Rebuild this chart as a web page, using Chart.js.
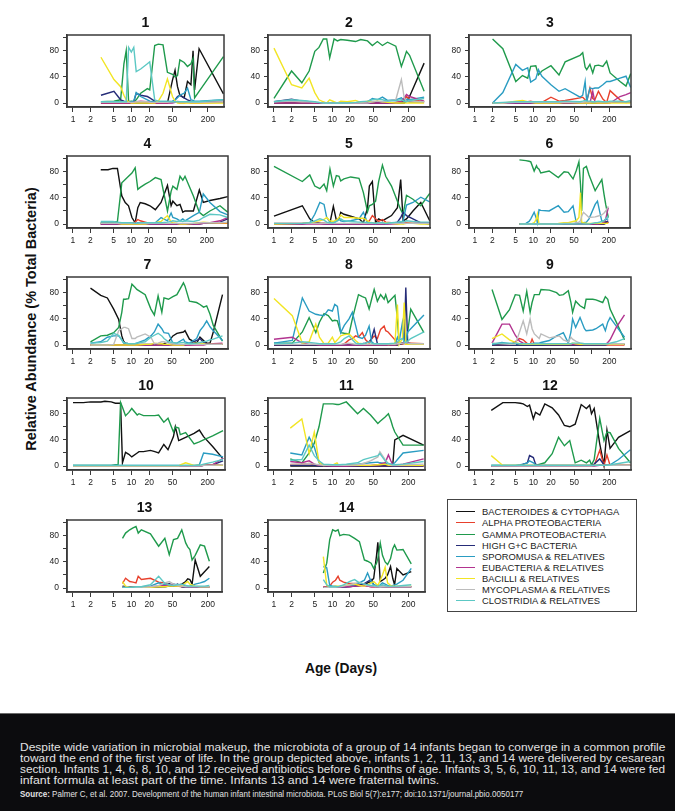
<!DOCTYPE html>
<html>
<head>
<meta charset="utf-8">
<script src="https://cdn.jsdelivr.net/npm/chart.js@4.4.1/dist/chart.umd.min.js"></script>
<style>
html, body { margin: 0; padding: 0; background: #fff; }
body { width: 675px; height: 811px; position: relative; overflow: hidden; font-family: "Liberation Sans", Arial, sans-serif; }
canvas.panel { position: absolute; display: block; }
#ytitle { position: absolute; left: 31px; top: 319px; transform: translate(-50%, -50%) rotate(-90deg); font-weight: bold; font-size: 14.5px; white-space: nowrap; color: #111; }
#xtitle { position: absolute; left: 341px; top: 668px; transform: translate(-50%, -50%); font-weight: bold; font-size: 13.8px; color: #111; white-space: nowrap; }
#legend { position: absolute; left: 447px; top: 499px; width: 190px; height: 113px; border: 1px solid #444; box-sizing: border-box; }
.li { position: absolute; left: 8px; height: 11px; font-size: 9.4px; line-height: 11px; color: #222; white-space: nowrap; }
.li i { display: inline-block; width: 19px; border-top: 1.6px solid; vertical-align: middle; margin-right: 7px; position: relative; top: -1px; }
#caption { position: absolute; left: 0; top: 713px; width: 675px; height: 98px; background: #0c0c0e; border-top: 1px solid #6a6a6a; box-sizing: border-box; }
.cl { position: absolute; left: 20px; height: 12px; line-height: 12px; white-space: nowrap; color: #e2e2e2; font-size: 11.5px; transform-origin: 0 50%; font-family: "Liberation Sans Narrow", "Liberation Sans", Arial, sans-serif; }
.cl.src { font-size: 9px; }
</style>
</head>
<body>
<div id="ytitle">Relative Abundance (% Total Bacteria)</div>
<div id="xtitle">Age (Days)</div>
<div id="legend"></div>
<div id="caption">
  <div class="cl" data-w="645" style="top:27px">Despite wide variation in microbial makeup, the microbiota of a group of 14 infants began to converge in a common profile</div>
  <div class="cl" data-w="645" style="top:38px">toward the end of the first year of life. In the group depicted above, infants 1, 2, 11, 13, and 14 were delivered by cesarean</div>
  <div class="cl" data-w="645" style="top:49px">section. Infants 1, 4, 6, 8, 10, and 12 received antibiotics before 6 months of age. Infants 3, 5, 6, 10, 11, 13, and 14 were fed</div>
  <div class="cl" data-w="419" style="top:60px">infant formula at least part of the time. Infants 13 and 14 were fraternal twins.</div>
  <div class="cl src" data-w="503" style="top:74px"><b>Source:</b> Palmer C, et al. 2007. Development of the human infant intestinal microbiota. PLoS Biol 5(7):e177; doi:10.1371/journal.pbio.0050177</div>
</div>
<script>
const SERIES = ['BACTEROIDES & CYTOPHAGA', 'ALPHA PROTEOBACTERIA', 'GAMMA PROTEOBACTERIA', 'HIGH G+C BACTERIA',
    'SPOROMUSA & RELATIVES', 'EUBACTERIA & RELATIVES', 'BACILLI & RELATIVES', 'MYCOPLASMA & RELATIVES', 'CLOSTRIDIA & RELATIVES'];
const COLORS = ['#111111', '#e8402c', '#1f9a4c', '#262c78', '#2a9cc2', '#b2338f', '#f2e524', '#bcbcbc', '#5cc8c4'];

const X_TICKS = [1, 2, 5, 10, 20, 50, 100, 200];
const X_TICK_LABELS = ['1', '2', '5', '10', '20', '50', '', '200'];
const Y_TICKS = [0, 20, 40, 60, 80, 100];
const Y_TICK_LABELS = ['0', '', '40', '', '80', ''];

// infant 1
const days1  = [3, 5, 6.5, 7.4, 8.1, 8.9, 9.9, 10.9, 12, 14.3, 18.6, 20.4, 24.8, 28.6, 34.4, 40.9, 49.9, 55.2, 60.8, 66.7, 79, 90, 103, 112, 119, 142, 370];
const bact1  = [0, 0, 0, 0, 0, 0, 0, 0, 0, 0, 0, 0, 0, 0, 0, 0, 35, 50, 25, 12, 8, 33, 28, 80, 20, 83, 14];
const alpha1 = [0, 0, 0, 0, 0, 0, 0, 0, 1, 2, 1, 0, 0, 0, 0, 0, 1, 2, 1, 0, 0, 1, 0, 0, 0, 0, 1];
const gamma1 = [2, 3, 5, 60, 80, 2, 3, 2, 5, 15, 22, 20, 88, 90, 89, 47, 44, 40, 42, 66, 62, 56, 60, 68, 8, 18, 71];
const hgc1   = [12, 18, 5, 3, 2, 2, 2, 2, 15, 12, 10, 8, 3, 2, 2, 2, 2, 5, 10, 12, 8, 5, 3, 2, 2, 2, 2];
const sporo1 = [2, 2, 2, 2, 2, 2, 2, 3, 16, 10, 5, 3, 2, 2, 2, 2, 3, 5, 8, 12, 15, 23, 5, 4, 3, 3, 5];
const eubac1 = [0, 0, 0, 0, 0, 0, 0, 1, 2, 3, 2, 1, 0, 0, 0, 0, 0, 1, 1, 1, 1, 1, 1, 1, 1, 1, 3];
const bacil1 = [70, 36, 25, 12, 5, 2, 0, 0, 0, 0, 0, 0, 0, 3, 15, 37, 10, 3, 0, 0, 0, 0, 0, 0, 0, 0, 0];
const myco1  = [1, 1, 1, 1, 1, 1, 1, 1, 2, 2, 2, 1, 1, 1, 1, 1, 2, 2, 3, 2, 2, 2, 1, 1, 1, 1, 2];
const clost1 = [2, 2, 2, 2, 2, 85, 78, 85, 48, 52, 60, 63, 5, 3, 3, 3, 2, 2, 2, 2, 2, 2, 2, 2, 2, 2, 5];

// infant 2
const days2  = [1, 2, 3, 4, 5, 5.9, 7, 8, 9, 10.7, 12.2, 13.9, 18, 25, 30.6, 40, 48.4, 59, 72, 88, 122, 152, 170, 186, 210, 373];
const bact2  = [0, 0, 0, 0, 0, 0, 0, 0, 0, 0, 0, 0, 0, 0, 0, 0, 0, 0, 0, 0, 0, 0, 0, 3, 10, 61];
const alpha2 = [1, 3, 2, 1, 0, 0, 0, 0, 0, 0, 0, 0, 0, 0, 0, 0, 0, 0, 0, 0, 1, 2, 5, 10, 6, 2];
const gamma2 = [7, 49, 31, 49, 79, 85, 98, 98, 69, 98, 95, 97, 96, 94, 97, 95, 88, 94, 88, 93, 87, 56, 68, 79, 73, 18];
const hgc2   = [2, 6, 3, 2, 1, 0, 0, 0, 0, 0, 0, 0, 0, 0, 0, 0, 0, 0, 0, 0, 1, 1, 2, 3, 2, 2];
const sporo2 = [2, 4, 3, 2, 1, 0, 0, 0, 0, 0, 0, 0, 0, 0, 1, 2, 7, 5, 9, 4, 5, 8, 4, 6, 5, 9];
const eubac2 = [0, 0, 0, 0, 0, 0, 0, 0, 0, 0, 0, 0, 0, 0, 0, 0, 0, 0, 0, 0, 0, 3, 8, 13, 10, 3];
const bacil2 = [84, 28, 23, 38, 16, 5, 2, 0, 5, 2, 0, 3, 2, 4, 1, 3, 2, 3, 2, 1, 0, 0, 0, 0, 0, 0];
const myco2  = [2, 3, 2, 2, 1, 1, 0, 0, 0, 0, 0, 0, 0, 0, 0, 0, 2, 3, 2, 3, 5, 36, 8, 3, 3, 2];
const clost2 = [2, 5, 4, 3, 2, 1, 0, 0, 0, 0, 0, 0, 0, 1, 2, 3, 5, 6, 5, 3, 4, 5, 3, 2, 4, 7];

// infant 3
const days3  = [2, 3, 5, 6.5, 8, 9, 11, 12.2, 14, 20, 27.5, 35, 63, 70, 77, 82, 93, 104, 113, 130, 155, 180, 206, 305, 386, 465];
const bact3  = [0, 0, 0, 0, 0, 0, 0, 0, 0, 0, 0, 0, 0, 0, 0, 0, 0, 0, 0, 0, 0, 0, 1, 2, 2, 2];
const alpha3 = [0, 0, 1, 1, 2, 3, 1, 2, 1, 9, 3, 4, 8, 9, 5, 3, 23, 7, 5, 18, 6, 1, 19, 5, 1, 2];
const gamma3 = [98, 83, 33, 42, 38, 56, 57, 43, 49, 57, 43, 63, 73, 77, 55, 51, 59, 46, 57, 58, 56, 64, 46, 33, 26, 45];
const hgc3   = [0, 0, 0, 0, 0, 0, 0, 0, 0, 0, 0, 0, 0, 0, 1, 1, 1, 1, 1, 1, 1, 1, 1, 1, 1, 1];
const sporo3 = [0, 16, 59, 50, 54, 32, 37, 51, 41, 28, 18, 22, 9, 12, 33, 2, 23, 22, 23, 23, 28, 33, 33, 38, 41, 24];
const eubac3 = [0, 0, 0, 0, 0, 0, 0, 0, 0, 0, 0, 0, 0, 0, 0, 0, 0, 18, 2, 0, 0, 0, 0, 10, 13, 16];
const bacil3 = [0, 0, 3, 4, 2, 1, 0, 0, 0, 0, 0, 1, 0, 0, 0, 0, 0, 0, 0, 0, 0, 0, 0, 0, 0, 0];
const myco3  = [0, 0, 1, 1, 1, 1, 1, 1, 1, 1, 1, 1, 1, 1, 2, 2, 2, 2, 2, 2, 2, 2, 2, 2, 2, 2];
const clost3 = [0, 1, 2, 2, 2, 2, 2, 2, 2, 2, 2, 3, 2, 3, 4, 3, 3, 2, 2, 3, 2, 2, 3, 3, 2, 4];

// infant 4
const days4  = [3, 4, 4.85, 5.8, 6.9, 7.9, 9, 10.3, 11.7, 13, 14.3, 17.4, 21, 26, 32.6, 42, 48.5, 52, 61, 69, 77, 84, 117, 148, 173, 225, 335, 455];
const bact4  = [83, 83, 85, 85, 43, 33, 28, 10, 2, 25, 33, 31, 28, 22, 33, 59, 28, 35, 28, 30, 18, 20, 20, 52, 33, 36, 39, 42];
const alpha4 = [0, 0, 0, 0, 0, 0, 0, 1, 3, 7, 5, 3, 1, 0, 0, 0, 0, 0, 0, 0, 0, 0, 0, 1, 1, 1, 1, 1];
const gamma4 = [2, 2, 3, 4, 63, 68, 73, 78, 86, 53, 56, 61, 65, 71, 68, 20, 50, 58, 53, 73, 67, 73, 43, 18, 13, 20, 28, 18];
const hgc4   = [0, 0, 0, 0, 0, 0, 0, 0, 0, 0, 0, 0, 0, 0, 0, 0, 0, 0, 0, 0, 0, 0, 0, 0, 1, 1, 3, 8];
const sporo4 = [2, 2, 2, 2, 2, 1, 1, 1, 1, 2, 2, 2, 2, 2, 10, 5, 17, 10, 8, 5, 8, 5, 13, 18, 46, 33, 19, 14];
const eubac4 = [0, 0, 0, 0, 0, 0, 0, 0, 0, 0, 0, 0, 0, 0, 0, 0, 0, 0, 0, 0, 0, 0, 0, 0, 1, 2, 5, 10];
const bacil4 = [1, 1, 1, 1, 0, 0, 0, 0, 0, 0, 0, 0, 1, 2, 4, 13, 3, 2, 1, 0, 0, 0, 1, 2, 3, 2, 2, 2];
const myco4  = [1, 1, 1, 1, 1, 1, 1, 1, 1, 1, 1, 1, 1, 1, 1, 1, 1, 1, 1, 1, 1, 1, 1, 2, 2, 2, 2, 3];
const clost4 = [4, 4, 4, 3, 2, 2, 2, 2, 1, 1, 2, 2, 2, 2, 2, 3, 4, 5, 4, 5, 4, 5, 4, 6, 10, 15, 14, 10];

// infant 5
const days5  = [1, 3.06, 4.1, 5, 6.1, 7.2, 8, 9.1, 10.4, 11.7, 13, 13.9, 15.8, 20.6, 28.6, 34, 40, 43, 48.4, 55, 62, 72, 82, 103, 130, 148, 163, 186, 240, 327, 465];
const bact5  = [12, 28, 8, 2, 1, 1, 1, 2, 27, 6, 8, 18, 15, 12, 8, 2, 25, 58, 65, 2, 8, 5, 8, 13, 25, 68, 5, 8, 20, 33, 5];
const alpha5 = [1, 1, 2, 2, 1, 1, 0, 0, 0, 0, 0, 0, 0, 0, 0, 1, 3, 5, 13, 8, 4, 7, 3, 2, 1, 2, 1, 2, 1, 1, 1];
const gamma5 = [88, 65, 75, 58, 54, 61, 51, 84, 58, 74, 73, 66, 69, 72, 70, 48, 19, 28, 30, 35, 65, 90, 73, 58, 35, 22, 15, 44, 38, 28, 47];
const hgc5   = [0, 0, 2, 2, 1, 0, 0, 0, 0, 0, 0, 0, 0, 0, 0, 0, 0, 0, 0, 0, 0, 0, 0, 1, 3, 10, 18, 13, 8, 2, 0];
const sporo5 = [0, 1, 2, 15, 33, 30, 10, 3, 2, 4, 8, 5, 4, 5, 8, 18, 2, 2, 2, 1, 2, 1, 1, 2, 2, 3, 5, 29, 33, 41, 34];
const eubac5 = [0, 0, 0, 0, 0, 0, 0, 0, 0, 0, 0, 0, 0, 0, 0, 0, 0, 0, 0, 0, 0, 0, 0, 0, 0, 1, 1, 1, 1, 2, 2];
const bacil5 = [0, 1, 2, 3, 5, 7, 10, 5, 4, 6, 10, 14, 10, 10, 9, 9, 5, 3, 2, 1, 1, 1, 2, 1, 0, 0, 0, 1, 1, 0, 0];
const myco5  = [1, 1, 1, 1, 1, 1, 1, 1, 1, 1, 1, 1, 1, 1, 1, 1, 1, 1, 1, 1, 1, 1, 1, 1, 1, 1, 1, 1, 1, 1, 1];
const clost5 = [1, 1, 2, 5, 8, 6, 3, 2, 2, 4, 6, 8, 5, 4, 3, 3, 2, 2, 2, 1, 2, 2, 1, 2, 3, 4, 3, 5, 4, 3, 3];

// infant 6
const days6  = [5.8, 7.5, 8.5, 9.1, 10.4, 11.4, 11.8, 12.6, 13.5, 18.8, 27, 34, 40, 48.4, 55, 61, 65, 68, 73, 82, 91, 116, 127, 151, 165, 176, 195];
const bact6  = [0, 0, 0, 0, 0, 0, 0, 0, 0, 0, 0, 0, 0, 0, 0, 0, 0, 0, 0, 0, 0, 0, 0, 0, 0, 1, 3];
const alpha6 = [0, 0, 0, 0, 0, 0, 0, 0, 0, 0, 0, 0, 0, 0, 0, 0, 0, 0, 0, 0, 0, 0, 0, 0, 2, 4, 2];
const gamma6 = [98, 97, 96, 95, 81, 89, 86, 84, 78, 81, 71, 80, 79, 69, 82, 95, 60, 20, 85, 88, 75, 51, 57, 68, 45, 30, 10];
const hgc6   = [0, 0, 0, 0, 0, 0, 0, 0, 0, 0, 0, 0, 0, 0, 0, 0, 0, 0, 0, 0, 0, 0, 0, 0, 1, 3, 5];
const sporo6 = [0, 1, 4, 8, 18, 8, 2, 22, 21, 20, 28, 18, 19, 28, 2, 1, 1, 2, 2, 3, 8, 30, 35, 4, 5, 7, 8];
const eubac6 = [0, 0, 0, 0, 0, 0, 0, 0, 0, 0, 0, 0, 0, 0, 0, 0, 0, 0, 0, 0, 0, 0, 0, 1, 3, 8, 25];
const bacil6 = [0, 0, 0, 0, 2, 8, 15, 0, 0, 0, 1, 2, 2, 4, 5, 10, 48, 3, 2, 1, 1, 1, 1, 1, 1, 1, 1];
const myco6  = [0, 0, 0, 0, 0, 0, 0, 0, 0, 0, 0, 1, 1, 1, 2, 3, 5, 12, 18, 14, 10, 11, 12, 14, 17, 20, 27];
const clost6 = [0, 0, 0, 0, 0, 0, 0, 0, 0, 0, 0, 0, 0, 0, 0, 0, 0, 0, 0, 0, 0, 2, 2, 4, 5, 8, 12];

// infant 7
const days7  = [2, 3, 3.9, 5, 6.1, 6.9, 7.4, 7.9, 9, 10.3, 11.7, 12.5, 17.4, 21.8, 25, 29, 33.6, 36.6, 43.7, 52, 61, 79, 84, 100, 133, 152, 175, 198, 226, 257, 370];
const bact7  = [87, 76, 72, 55, 39, 14, 6, 3, 2, 2, 1, 1, 1, 1, 1, 1, 1, 2, 5, 14, 18, 20, 22, 9, 3, 12, 7, 3, 3, 20, 77];
const alpha7 = [0, 0, 0, 0, 0, 0, 0, 0, 0, 0, 0, 0, 0, 0, 0, 0, 0, 0, 0, 0, 0, 0, 0, 0, 1, 1, 1, 1, 1, 1, 1];
const gamma7 = [5, 14, 15, 19, 27, 50, 70, 70, 71, 93, 88, 85, 77, 55, 46, 75, 50, 72, 70, 74, 77, 95, 90, 67, 65, 62, 58, 60, 47, 30, 6];
const hgc7   = [0, 0, 0, 0, 0, 0, 0, 0, 0, 0, 0, 0, 0, 0, 0, 0, 0, 0, 0, 0, 0, 0, 0, 2, 7, 10, 4, 2, 1, 1, 1];
const sporo7 = [3, 5, 12, 14, 14, 8, 3, 3, 2, 2, 2, 3, 8, 14, 20, 32, 25, 19, 18, 3, 3, 9, 5, 3, 10, 22, 29, 37, 28, 22, 7];
const eubac7 = [0, 0, 0, 0, 0, 0, 0, 0, 0, 0, 0, 0, 0, 0, 0, 0, 0, 0, 0, 0, 0, 0, 0, 0, 0, 0, 0, 1, 1, 2, 3];
const bacil7 = [0, 0, 0, 0, 0, 0, 0, 0, 0, 0, 0, 0, 1, 1, 3, 2, 2, 1, 1, 0, 0, 0, 1, 2, 3, 3, 2, 1, 1, 1, 1];
const myco7  = [0, 0, 0, 1, 22, 25, 27, 27, 25, 10, 10, 12, 17, 12, 2, 3, 5, 5, 3, 2, 1, 1, 1, 1, 1, 1, 1, 1, 1, 1, 1];
const clost7 = [3, 4, 6, 18, 15, 8, 4, 3, 2, 2, 2, 3, 5, 12, 15, 18, 14, 10, 5, 4, 3, 4, 3, 2, 3, 4, 5, 6, 8, 9, 14];

// infant 8
const days8  = [1, 2.06, 3.06, 4, 5.2, 6, 7.2, 8.5, 10, 11, 12.2, 13.9, 16, 19.3, 22, 25, 28, 32.6, 37, 42.6, 47, 52, 59, 67, 77, 82, 90, 118, 130, 139, 158, 170, 181, 195, 220, 370];
const bact8  = [0, 0, 0, 0, 0, 0, 0, 0, 0, 0, 0, 0, 0, 0, 0, 0, 0, 0, 0, 0, 0, 0, 0, 0, 0, 0, 0, 0, 0, 1, 2, 3, 5, 3, 2, 1];
const alpha8 = [0, 0, 0, 0, 0, 0, 0, 0, 0, 0, 0, 0, 2, 8, 10, 14, 12, 19, 8, 3, 9, 14, 10, 24, 29, 22, 20, 8, 3, 3, 2, 2, 3, 2, 3, 2];
const gamma8 = [3, 3, 20, 42, 19, 35, 48, 45, 37, 38, 37, 19, 18, 17, 40, 60, 77, 74, 72, 55, 70, 85, 67, 77, 70, 77, 65, 76, 40, 3, 3, 3, 3, 20, 55, 19];
const hgc8   = [0, 0, 0, 0, 0, 0, 0, 0, 0, 0, 0, 0, 0, 0, 0, 0, 0, 2, 3, 5, 10, 24, 2, 1, 1, 1, 1, 1, 2, 2, 3, 5, 88, 3, 2, 1];
const sporo8 = [3, 7, 72, 52, 47, 46, 45, 54, 52, 62, 59, 19, 30, 40, 50, 30, 12, 10, 15, 29, 5, 2, 2, 1, 1, 1, 2, 2, 12, 5, 34, 3, 2, 20, 25, 46];
const eubac8 = [9, 12, 3, 1, 1, 0, 0, 0, 0, 0, 0, 0, 0, 0, 0, 0, 0, 0, 0, 0, 0, 0, 0, 0, 0, 0, 0, 0, 1, 2, 3, 4, 5, 3, 2, 2];
const bacil8 = [71, 45, 3, 5, 32, 12, 2, 3, 12, 4, 8, 14, 16, 17, 12, 7, 3, 2, 1, 1, 1, 1, 1, 1, 2, 2, 1, 2, 62, 1, 10, 65, 1, 1, 1, 1];
const myco8  = [1, 1, 1, 1, 1, 1, 1, 1, 1, 1, 1, 1, 2, 3, 2, 1, 1, 1, 1, 1, 1, 1, 1, 1, 1, 1, 1, 1, 2, 2, 3, 3, 4, 3, 2, 2];
const clost8 = [2, 3, 5, 4, 3, 2, 2, 2, 2, 2, 3, 5, 10, 14, 8, 3, 2, 2, 3, 5, 3, 2, 2, 2, 2, 2, 2, 3, 5, 8, 10, 5, 4, 6, 10, 20];

// infant 9
const days9  = [1.96, 2.9, 3.9, 4.9, 5.8, 6.7, 7.7, 8.8, 9.5, 10.4, 12.6, 13.5, 18.8, 25, 27.9, 32.6, 39.7, 44, 47, 53, 63, 75, 80, 104, 118, 154, 171, 188, 206, 263, 364];
const bact9  = [0, 0, 0, 0, 0, 0, 0, 0, 0, 0, 0, 0, 0, 0, 0, 0, 0, 0, 0, 0, 0, 1, 1, 1, 1, 1, 1, 1, 1, 1, 1];
const alpha9 = [0, 0, 0, 5, 10, 8, 3, 1, 9, 1, 1, 1, 0, 0, 0, 0, 0, 0, 0, 0, 0, 0, 0, 0, 0, 0, 0, 0, 0, 0, 0];
const gamma9 = [85, 39, 54, 77, 76, 52, 82, 50, 65, 77, 77, 85, 84, 80, 76, 77, 83, 65, 50, 67, 60, 56, 70, 70, 69, 65, 74, 70, 55, 35, 8];
const hgc9   = [0, 0, 0, 0, 0, 0, 0, 0, 0, 0, 0, 0, 0, 0, 0, 0, 0, 0, 0, 0, 0, 0, 0, 0, 0, 0, 0, 1, 1, 1, 1];
const sporo9 = [1, 4, 2, 2, 2, 2, 2, 2, 2, 3, 3, 4, 7, 14, 16, 19, 3, 20, 40, 27, 42, 25, 22, 23, 25, 32, 22, 35, 42, 29, 12];
const eubac9 = [3, 32, 32, 15, 6, 3, 2, 1, 1, 1, 1, 1, 1, 1, 1, 1, 1, 1, 1, 1, 1, 1, 1, 1, 1, 1, 1, 4, 8, 27, 46];
const bacil9 = [10, 17, 8, 4, 2, 1, 1, 1, 1, 1, 1, 1, 1, 1, 1, 1, 1, 2, 3, 2, 1, 1, 1, 1, 1, 1, 1, 1, 1, 1, 1];
const myco9  = [3, 2, 1, 1, 20, 37, 17, 40, 25, 17, 10, 17, 11, 13, 14, 8, 5, 12, 9, 6, 3, 2, 2, 2, 2, 2, 2, 2, 2, 2, 2];
const clost9 = [2, 3, 3, 3, 2, 2, 2, 2, 2, 2, 2, 2, 2, 2, 2, 2, 2, 2, 3, 3, 3, 2, 2, 2, 2, 2, 2, 2, 3, 5, 10];

// infant 10
const days10  = [1, 1.5, 2, 3, 3.5, 4.5, 5.3, 5.9, 6.5, 7, 7.9, 9, 10.1, 12.5, 13.4, 16, 21, 25, 29, 35.6, 42, 52, 56, 64, 68, 84, 117, 144, 170, 243, 366];
const bact10  = [97, 97, 98, 98, 99, 98, 96, 96, 96, 5, 21, 18, 14, 20, 22, 22, 24, 22, 20, 33, 25, 45, 60, 39, 40, 44, 50, 55, 45, 30, 11];
const alpha10 = [0, 0, 0, 0, 0, 0, 0, 0, 0, 0, 0, 0, 0, 0, 0, 0, 0, 0, 0, 0, 0, 0, 0, 0, 0, 0, 0, 0, 1, 2, 2];
const gamma10 = [1, 1, 1, 1, 1, 1, 2, 2, 97, 90, 77, 82, 88, 78, 80, 77, 77, 77, 78, 67, 73, 52, 60, 58, 48, 51, 34, 37, 40, 46, 54];
const hgc10   = [0, 0, 0, 0, 0, 0, 0, 0, 0, 0, 0, 0, 0, 0, 0, 0, 0, 0, 0, 0, 0, 0, 0, 0, 0, 0, 0, 0, 1, 2, 8];
const sporo10 = [1, 1, 1, 1, 1, 1, 1, 1, 1, 1, 1, 1, 1, 1, 1, 1, 1, 1, 1, 1, 1, 1, 1, 1, 1, 1, 1, 2, 20, 18, 14];
const eubac10 = [0, 0, 0, 0, 0, 0, 0, 0, 0, 0, 0, 0, 0, 0, 0, 0, 0, 0, 0, 0, 0, 0, 0, 0, 0, 0, 0, 0, 1, 2, 12];
const bacil10 = [0, 0, 0, 0, 0, 0, 0, 0, 0, 0, 0, 0, 0, 0, 0, 0, 0, 0, 0, 0, 0, 0, 0, 0, 2, 5, 1, 1, 1, 1, 1];
const myco10  = [0, 0, 0, 0, 0, 0, 0, 0, 0, 0, 0, 0, 0, 0, 0, 0, 0, 0, 0, 0, 0, 0, 0, 0, 0, 0, 0, 0, 1, 1, 2];
const clost10 = [1, 1, 1, 1, 1, 1, 1, 1, 1, 1, 1, 1, 1, 1, 1, 1, 1, 1, 1, 1, 1, 1, 1, 1, 1, 1, 1, 1, 3, 6, 10];

// infant 11
const days11  = [1.9, 3, 4, 4.9, 5.9, 7, 10.2, 12, 12.9, 17.3, 27, 34, 45, 60, 65, 80, 91, 100, 108, 117, 162, 365];
const bact11  = [0, 0, 0, 0, 0, 0, 0, 0, 0, 0, 0, 0, 0, 0, 0, 0, 0, 0, 2, 40, 47, 32];
const alpha11 = [2, 3, 4, 2, 1, 0, 0, 0, 0, 0, 0, 0, 0, 0, 0, 0, 0, 0, 0, 0, 0, 0];
const gamma11 = [11, 5, 20, 35, 60, 95, 95, 94, 94, 98, 80, 88, 78, 65, 68, 75, 80, 70, 60, 52, 32, 32];
const hgc11   = [1, 1, 1, 1, 0, 0, 0, 0, 0, 0, 0, 0, 0, 0, 0, 0, 0, 0, 0, 0, 0, 0];
const sporo11 = [20, 17, 44, 29, 5, 2, 2, 2, 2, 2, 3, 4, 5, 6, 5, 4, 3, 3, 3, 5, 20, 24];
const eubac11 = [7, 5, 8, 3, 1, 1, 0, 0, 0, 0, 1, 1, 1, 2, 3, 5, 17, 8, 2, 1, 3, 11];
const bacil11 = [58, 72, 19, 52, 6, 1, 2, 5, 1, 1, 1, 1, 1, 2, 2, 3, 1, 1, 1, 1, 1, 1];
const myco11  = [3, 3, 4, 3, 2, 1, 1, 1, 1, 1, 2, 4, 8, 14, 22, 10, 3, 2, 1, 1, 2, 3];
const clost11 = [9, 10, 32, 16, 8, 3, 2, 2, 2, 3, 5, 10, 13, 16, 19, 8, 4, 3, 2, 2, 3, 7];

// infant 12
const days12  = [1.9, 3, 4.9, 6, 6.7, 7.9, 8.6, 10, 10.9, 12.9, 15.7, 21, 27, 34, 42, 52, 66, 81, 92, 99, 110, 137, 162, 182, 206, 287, 460];
const bact12  = [85, 97, 97, 96, 95, 91, 93, 72, 82, 78, 95, 89, 78, 62, 60, 64, 94, 88, 93, 80, 88, 34, 1, 55, 27, 44, 54];
const alpha12 = [0, 0, 0, 0, 0, 0, 0, 0, 0, 0, 0, 0, 0, 0, 0, 0, 0, 0, 0, 0, 1, 24, 1, 17, 1, 1, 1];
const gamma12 = [1, 1, 1, 1, 1, 1, 1, 1, 1, 3, 5, 19, 44, 31, 39, 5, 9, 5, 9, 2, 10, 73, 39, 52, 51, 27, 5];
const hgc12   = [0, 0, 0, 1, 3, 5, 16, 13, 3, 1, 1, 1, 1, 1, 1, 1, 1, 1, 1, 1, 3, 11, 2, 1, 1, 1, 1];
const sporo12 = [1, 1, 1, 2, 3, 5, 8, 5, 2, 1, 1, 1, 1, 1, 1, 1, 1, 1, 1, 1, 1, 2, 1, 2, 2, 10, 25];
const eubac12 = [0, 0, 0, 0, 0, 0, 0, 0, 0, 0, 0, 0, 0, 0, 0, 0, 0, 0, 0, 0, 0, 1, 1, 1, 1, 1, 1];
const bacil12 = [16, 1, 1, 1, 1, 1, 1, 1, 1, 1, 1, 1, 1, 1, 1, 1, 1, 1, 1, 1, 1, 1, 1, 1, 1, 1, 1];
const myco12  = [0, 0, 0, 0, 0, 0, 0, 0, 0, 0, 0, 0, 0, 0, 0, 0, 0, 0, 0, 0, 1, 1, 1, 1, 1, 1, 1];
const clost12 = [1, 1, 1, 1, 1, 1, 1, 1, 1, 1, 1, 1, 1, 1, 1, 1, 1, 1, 1, 1, 1, 1, 1, 1, 2, 4, 7];

// infant 13
const days13  = [7, 7.9, 9.3, 10.6, 11.9, 13, 14.7, 21, 29, 37, 44, 52, 61, 72, 84, 91, 99, 108, 122, 149, 176, 213];
const bact13  = [3, 2, 2, 2, 2, 2, 2, 2, 2, 2, 3, 3, 4, 6, 10, 14, 13, 6, 43, 18, 25, 33];
const alpha13 = [7, 15, 10, 9, 8, 18, 13, 15, 9, 8, 5, 3, 3, 2, 2, 2, 2, 2, 2, 2, 2, 2];
const gamma13 = [76, 84, 89, 92, 94, 84, 89, 83, 64, 76, 51, 74, 76, 89, 69, 63, 59, 43, 50, 66, 64, 41];
const hgc13   = [1, 1, 1, 1, 1, 1, 1, 1, 2, 3, 7, 3, 6, 2, 1, 1, 1, 1, 1, 1, 1, 1];
const sporo13 = [1, 1, 1, 2, 2, 2, 2, 3, 8, 5, 4, 6, 5, 3, 4, 3, 3, 4, 6, 8, 10, 15];
const eubac13 = [1, 1, 1, 1, 1, 1, 1, 2, 3, 4, 5, 6, 4, 3, 2, 2, 2, 2, 2, 2, 2, 2];
const bacil13 = [10, 3, 1, 1, 1, 1, 1, 1, 2, 2, 3, 3, 3, 3, 8, 10, 6, 5, 3, 2, 2, 2];
const myco13  = [1, 1, 1, 1, 1, 1, 1, 2, 4, 8, 10, 6, 4, 3, 2, 2, 2, 2, 2, 2, 2, 2];
const clost13 = [1, 1, 1, 1, 2, 2, 2, 5, 18, 7, 5, 4, 5, 6, 4, 3, 3, 3, 3, 3, 3, 4];

// infant 14
const days14  = [7, 8, 9, 10.1, 11.3, 12.5, 13.4, 15.5, 19.5, 24, 29, 35.3, 40, 46, 51, 57, 60, 66, 72, 80, 88, 99, 108, 116, 127, 162, 224];
const bact14  = [1, 1, 1, 1, 1, 1, 2, 2, 3, 3, 4, 5, 8, 10, 15, 50, 70, 10, 12, 15, 20, 33, 15, 5, 30, 20, 25];
const alpha14 = [2, 2, 3, 9, 12, 18, 12, 9, 7, 7, 5, 4, 3, 2, 2, 2, 2, 3, 2, 2, 2, 2, 2, 2, 2, 2, 2];
const gamma14 = [23, 38, 74, 89, 87, 89, 80, 82, 81, 76, 71, 43, 41, 38, 30, 38, 45, 69, 50, 40, 36, 45, 60, 66, 58, 59, 37];
const hgc14   = [1, 1, 1, 1, 1, 1, 1, 1, 2, 3, 4, 7, 10, 13, 5, 2, 2, 2, 2, 2, 2, 2, 2, 2, 2, 2, 2];
const sporo14 = [33, 31, 4, 3, 3, 2, 2, 2, 3, 5, 8, 12, 23, 10, 5, 4, 3, 5, 8, 6, 4, 3, 4, 5, 6, 12, 30];
const eubac14 = [1, 1, 1, 1, 1, 1, 1, 2, 2, 3, 3, 4, 3, 2, 2, 2, 2, 3, 3, 2, 2, 2, 2, 2, 2, 2, 2];
const bacil14 = [48, 4, 2, 2, 3, 3, 3, 4, 5, 6, 4, 3, 5, 8, 10, 6, 4, 12, 20, 32, 8, 4, 3, 3, 3, 3, 3];
const myco14  = [1, 1, 1, 1, 1, 2, 2, 3, 5, 7, 9, 6, 4, 3, 3, 2, 2, 2, 2, 2, 2, 2, 2, 2, 2, 2, 2];
const clost14 = [13, 5, 2, 2, 2, 2, 3, 5, 10, 13, 8, 6, 5, 4, 4, 3, 3, 4, 5, 4, 3, 3, 3, 3, 3, 4, 5];

const PANELS = [
    { days: days1,  vals: [bact1, alpha1, gamma1, hgc1, sporo1, eubac1, bacil1, myco1, clost1], xMax: 378 },
    { days: days2,  vals: [bact2, alpha2, gamma2, hgc2, sporo2, eubac2, bacil2, myco2, clost2], xMax: 470 },
    { days: days3,  vals: [bact3, alpha3, gamma3, hgc3, sporo3, eubac3, bacil3, myco3, clost3], xMax: 470 },
    { days: days4,  vals: [bact4, alpha4, gamma4, hgc4, sporo4, eubac4, bacil4, myco4, clost4], xMax: 460 },
    { days: days5,  vals: [bact5, alpha5, gamma5, hgc5, sporo5, eubac5, bacil5, myco5, clost5], xMax: 470 },
    { days: days6,  vals: [bact6, alpha6, gamma6, hgc6, sporo6, eubac6, bacil6, myco6, clost6], xMax: 460 },
    { days: days7,  vals: [bact7, alpha7, gamma7, hgc7, sporo7, eubac7, bacil7, myco7, clost7], xMax: 460 },
    { days: days8,  vals: [bact8, alpha8, gamma8, hgc8, sporo8, eubac8, bacil8, myco8, clost8], xMax: 470 },
    { days: days9,  vals: [bact9, alpha9, gamma9, hgc9, sporo9, eubac9, bacil9, myco9, clost9], xMax: 470 },
    { days: days10, vals: [bact10, alpha10, gamma10, hgc10, sporo10, eubac10, bacil10, myco10, clost10], xMax: 395 },
    { days: days11, vals: [bact11, alpha11, gamma11, hgc11, sporo11, eubac11, bacil11, myco11, clost11], xMax: 385 },
    { days: days12, vals: [bact12, alpha12, gamma12, hgc12, sporo12, eubac12, bacil12, myco12, clost12], xMax: 470 },
    { days: days13, vals: [bact13, alpha13, gamma13, hgc13, sporo13, eubac13, bacil13, myco13, clost13], xMax: 350 },
    { days: days14, vals: [bact14, alpha14, gamma14, hgc14, sporo14, eubac14, bacil14, myco14, clost14], xMax: 385 }
];

// page layout of the 3 x 5 grid (plot box positions in px)
const COL_LEFT = [66.7, 268.3, 469.3];
const ROW_TOP0 = 34.5, ROW_STEP = 121.25;
const BOX_H = 72;
const X_MIN = 0.79, PX_PER_DECADE = 58.4;
const Y_AXIS_W = 34, X_AXIS_H = 24, TITLE_H = 26, PAD_R = 4;

Chart.defaults.font.family = '"Liberation Sans", Arial, sans-serif';
Chart.defaults.color = '#222';

// R-style closed box around the plot region
const boxFrame = {
    id: 'boxFrame',
    afterDraw(chart) {
        const { ctx, chartArea: a } = chart;
        ctx.save();
        ctx.strokeStyle = '#3a3a3a';
        ctx.lineWidth = 1.5;
        ctx.strokeRect(a.left, a.top, a.right - a.left, a.bottom - a.top);
        ctx.restore();
    }
};

PANELS.forEach((p, i) => {
    const col = i % 3, row = Math.floor(i / 3);
    const boxW = (Math.log10(p.xMax) - Math.log10(X_MIN)) * PX_PER_DECADE;
    const cv = document.createElement('canvas');
    cv.className = 'panel';
    cv.width = Math.round(Y_AXIS_W + boxW + PAD_R);
    cv.height = TITLE_H + BOX_H + X_AXIS_H;
    cv.style.left = (COL_LEFT[col] - Y_AXIS_W) + 'px';
    cv.style.top = (ROW_TOP0 + row * ROW_STEP - TITLE_H) + 'px';
    document.body.appendChild(cv);

    p.vals.forEach((v, k) => {
        if (v.length !== p.days.length) console.warn('length mismatch', i + 1, SERIES[k]);
    });

    new Chart(cv, {
        type: 'line',
        data: {
            datasets: SERIES.map((name, k) => ({
                label: name,
                data: p.days.map((d, j) => ({ x: d, y: p.vals[k][j] })),
                borderColor: COLORS[k],
                borderWidth: 1.4,
                pointRadius: 0,
                tension: 0,
                fill: false,
                order: SERIES.length - k // later series drawn on top, like matplot
            }))
        },
        options: {
            responsive: false,
            animation: false,
            events: [],
            layout: { padding: { left: 0, right: PAD_R, top: 0, bottom: 0 } },
            plugins: {
                legend: { display: false },
                tooltip: { enabled: false },
                title: {
                    display: true,
                    text: String(i + 1),
                    fullSize: false,
                    color: '#111',
                    font: { size: 14, weight: 'bold' },
                    padding: { top: 5.6, bottom: 3.6 }
                }
            },
            scales: {
                x: {
                    type: 'logarithmic',
                    min: X_MIN,
                    max: p.xMax,
                    afterBuildTicks: s => { s.ticks = X_TICKS.map(v => ({ value: v })); },
                    afterFit: s => { s.height = X_AXIS_H; },
                    ticks: {
                        autoSkip: false, maxRotation: 0, padding: 3,
                        font: { size: 8.5 }, color: '#222',
                        callback: (v, idx) => X_TICK_LABELS[idx]
                    },
                    grid: { drawOnChartArea: false, tickLength: 5, color: '#3a3a3a' },
                    border: { color: '#3a3a3a', width: 1.5 }
                },
                y: {
                    min: -6,
                    max: 104,
                    afterBuildTicks: s => { s.ticks = Y_TICKS.map(v => ({ value: v })); },
                    afterFit: s => { s.width = Y_AXIS_W; },
                    ticks: {
                        padding: 4, font: { size: 8.5 }, color: '#222',
                        callback: (v, idx) => Y_TICK_LABELS[idx]
                    },
                    grid: { drawOnChartArea: false, tickLength: 4, color: '#3a3a3a' },
                    border: { color: '#3a3a3a', width: 1.5 }
                }
            }
        },
        plugins: [boxFrame]
    });
});

// legend
const legend = document.getElementById('legend');
SERIES.forEach((name, k) => {
    const row = document.createElement('div');
    row.className = 'li';
    row.style.top = (6.2 + 11.15 * k) + 'px';
    const sw = document.createElement('i');
    sw.style.borderTopColor = COLORS[k];
    row.appendChild(sw);
    row.appendChild(document.createTextNode(name));
    legend.appendChild(row);
});

// stretch caption lines to the measured widths of the printed lines
document.querySelectorAll('.cl').forEach(el => {
    const w = el.scrollWidth;
    el.style.transform = 'scaleX(' + (+el.dataset.w / w) + ')';
});
</script>
</body>
</html>
